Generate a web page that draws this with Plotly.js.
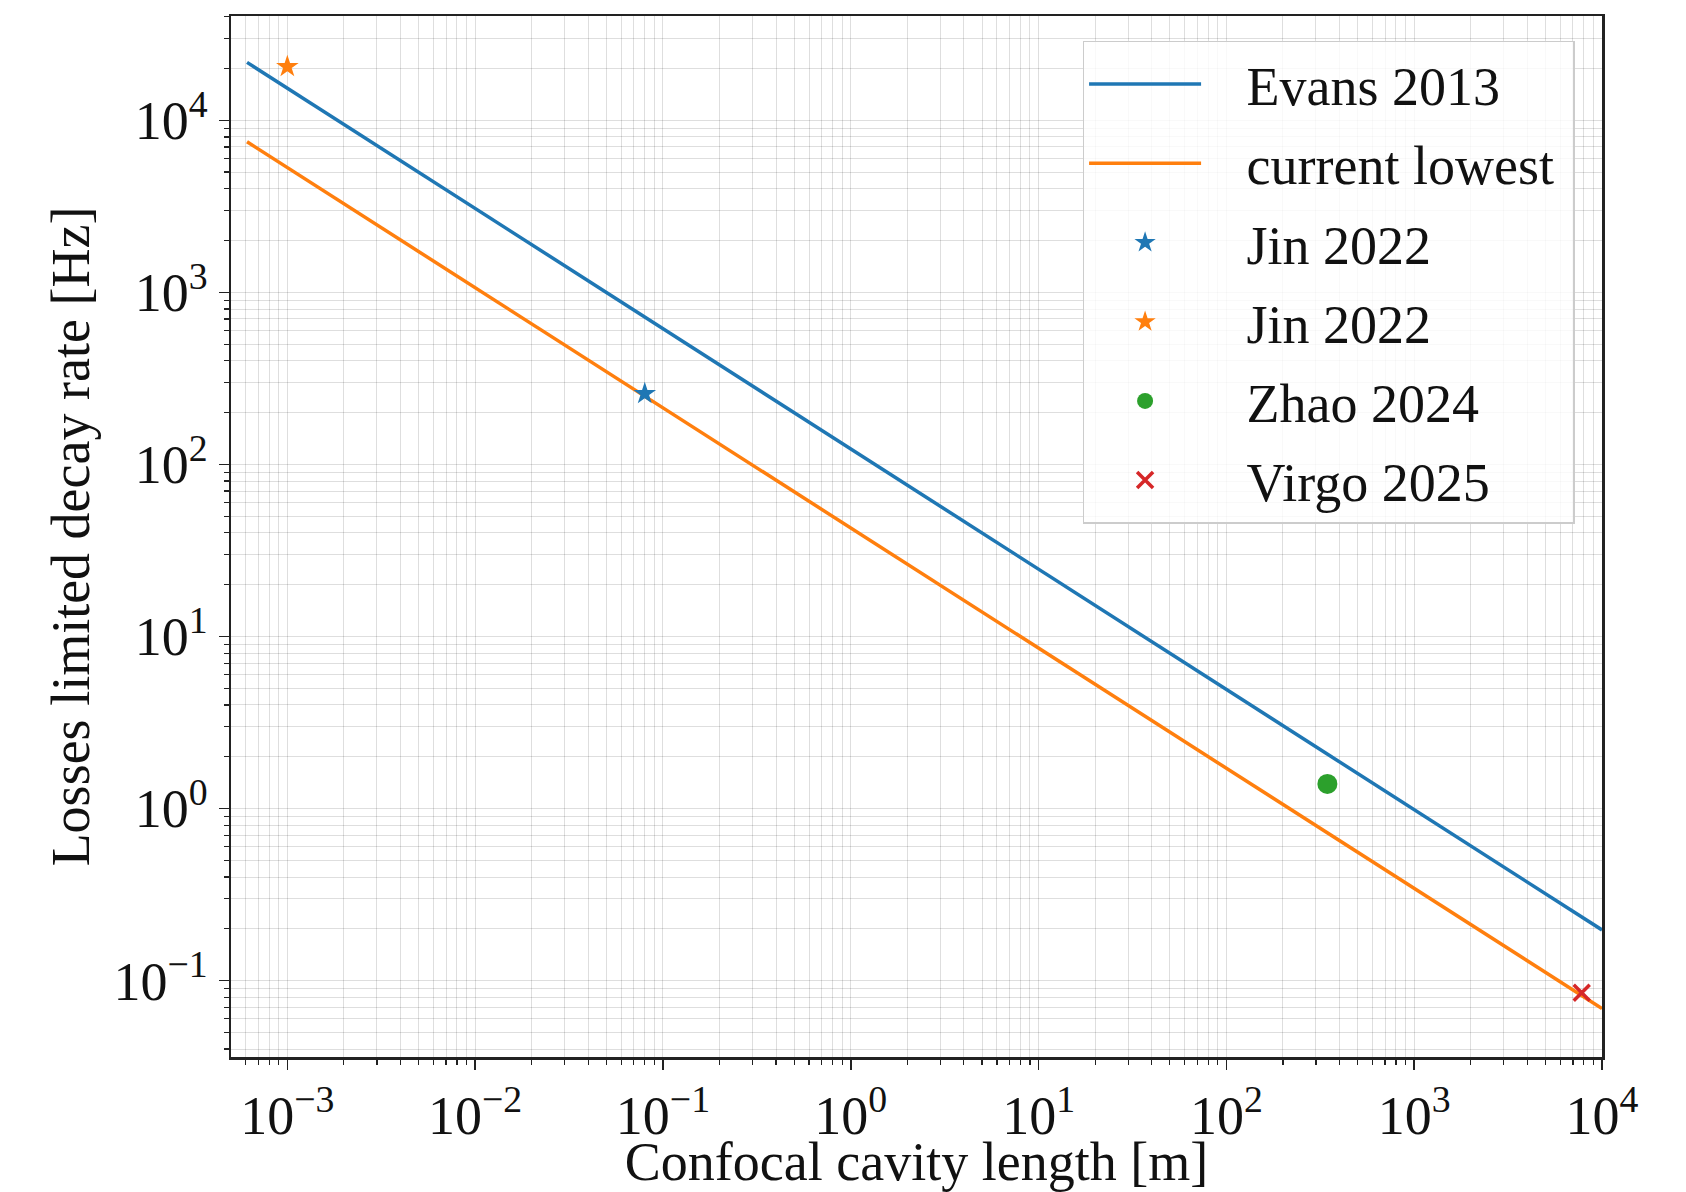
<!DOCTYPE html>
<html>
<head>
<meta charset="utf-8">
<script src="https://cdn.plot.ly/plotly-3.0.1.min.js"></script>
<style>html,body{margin:0;padding:0;background:#fff;}#chart{width:1686px;height:1192px;}</style>
</head>
<body>
<div id="chart"></div>
<script>
// ---- data ----
const evansX = [6.1e-4, 1e4];
const evansY = [2.17e4, 0.197];
const lowestX = [6.1e-4, 1e4];
const lowestY = [7.5e3, 0.0688];
const jinBlueX = [0.08];
const jinBlueY = [258];
const jinOrangeX = [0.001];
const jinOrangeY = [2.05e4];
const zhaoX = [345];
const zhaoY = [1.39];
const virgoX = [7.8e3];
const virgoY = [0.085];
const seriesNames = ['Evans 2013', 'current lowest', 'Jin 2022', 'Jin 2022', 'Zhao 2024', 'Virgo 2025'];
const xTickVals = [1e-3, 1e-2, 1e-1, 1e0, 1e1, 1e2, 1e3, 1e4];
const xTickText = ['10<sup>−3</sup>','10<sup>−2</sup>','10<sup>−1</sup>','10<sup>0</sup>','10<sup>1</sup>','10<sup>2</sup>','10<sup>3</sup>','10<sup>4</sup>'];
const yTickVals = [1e-1, 1e0, 1e1, 1e2, 1e3, 1e4];
const yTickText = ['10<sup>−1</sup>','10<sup>0</sup>','10<sup>1</sup>','10<sup>2</sup>','10<sup>3</sup>','10<sup>4</sup>'];

function minorVals(lo, hi) {
  const out = [];
  for (let e = lo; e <= hi; e++) for (let m = 2; m <= 9; m++) out.push(m * Math.pow(10, e));
  return out;
}

const FONT = 'Liberation Serif, Times New Roman, serif';
const gridc = 'rgba(0,0,0,0.13)';
const pad = '\u00a0\u00a0\u00a0';
const tail = '\u00a0';

const traces = [
  {x: evansX, y: evansY, mode: 'lines', name: pad + seriesNames[0] + tail, legendgroup: 'g1', line: {color: '#1f77b4', width: 3.5}},
  {x: lowestX, y: lowestY, mode: 'lines', name: pad + seriesNames[1] + tail, legendgroup: 'g2', line: {color: '#ff7f0e', width: 3.5}},
  {x: jinBlueX, y: jinBlueY, mode: 'markers', name: pad + seriesNames[2] + tail, legendgroup: 'g3', marker: {symbol: 'star', color: '#1f77b4', size: 17}},
  {x: jinOrangeX, y: jinOrangeY, mode: 'markers', name: pad + seriesNames[3] + tail, legendgroup: 'g4', marker: {symbol: 'star', color: '#ff7f0e', size: 17}},
  {x: zhaoX, y: zhaoY, mode: 'markers', name: pad + seriesNames[4] + tail, legendgroup: 'g5', marker: {symbol: 'circle', color: '#2ca02c', size: 20}},
  {x: virgoX, y: virgoY, mode: 'markers', name: pad + seriesNames[5] + tail, legendgroup: 'g6', marker: {symbol: 'x-thin', size: 16, line: {color: '#d62728', width: 3.5}, color: '#d62728'}}
];

const axisCommon = {
  type: 'log',
  showline: true, linecolor: '#222', linewidth: 2.5, mirror: true,
  ticks: 'outside', ticklen: 10, tickwidth: 1.5, tickcolor: '#222',
  showgrid: true, gridcolor: gridc, gridwidth: 1,
  zeroline: false,
  tickfont: {family: FONT, size: 54, color: '#111'},
  tickmode: 'array',
  automargin: false
};

const layout = {
  width: 1686, height: 1192,
  paper_bgcolor: '#fff', plot_bgcolor: '#fff',
  margin: {l: 231, r: 84, t: 16, b: 135},
  font: {family: FONT, color: '#111'},
  showlegend: true,
  xaxis: Object.assign({}, axisCommon, {
    range: [-3.30, 4],
    tickvals: xTickVals, ticktext: xTickText,
    minor: {tickmode: 'array', tickvals: minorVals(-4, 3), ticks: 'outside', ticklen: 5, tickwidth: 1.2, tickcolor: '#222', showgrid: true, gridcolor: gridc, gridwidth: 1},
    title: {text: 'Confocal cavity length [m]', font: {family: FONT, size: 54, color: '#111'}, standoff: 20}
  }),
  yaxis: Object.assign({}, axisCommon, {
    range: [-1.444, 4.606],
    tickvals: yTickVals, ticktext: yTickText,
    minor: {tickmode: 'array', tickvals: minorVals(-2, 4), ticks: 'outside', ticklen: 5, tickwidth: 1.2, tickcolor: '#222', showgrid: true, gridcolor: gridc, gridwidth: 1},
    title: {text: 'Losses limited decay rate [Hz]', font: {family: FONT, size: 54, color: '#111'}, standoff: 7}
  }),
  legend: {
    x: 0.980, y: 0.976, xanchor: 'right', yanchor: 'top',
    bgcolor: 'rgba(255,255,255,0.8)', bordercolor: '#cccccc', borderwidth: 1.5,
    font: {family: FONT, size: 54, color: '#111'},
    itemwidth: 112,
    tracegroupgap: 6
  }
};

Plotly.newPlot('chart', traces, layout, {staticPlot: true, displayModeBar: false});
</script>
</body>
</html>
